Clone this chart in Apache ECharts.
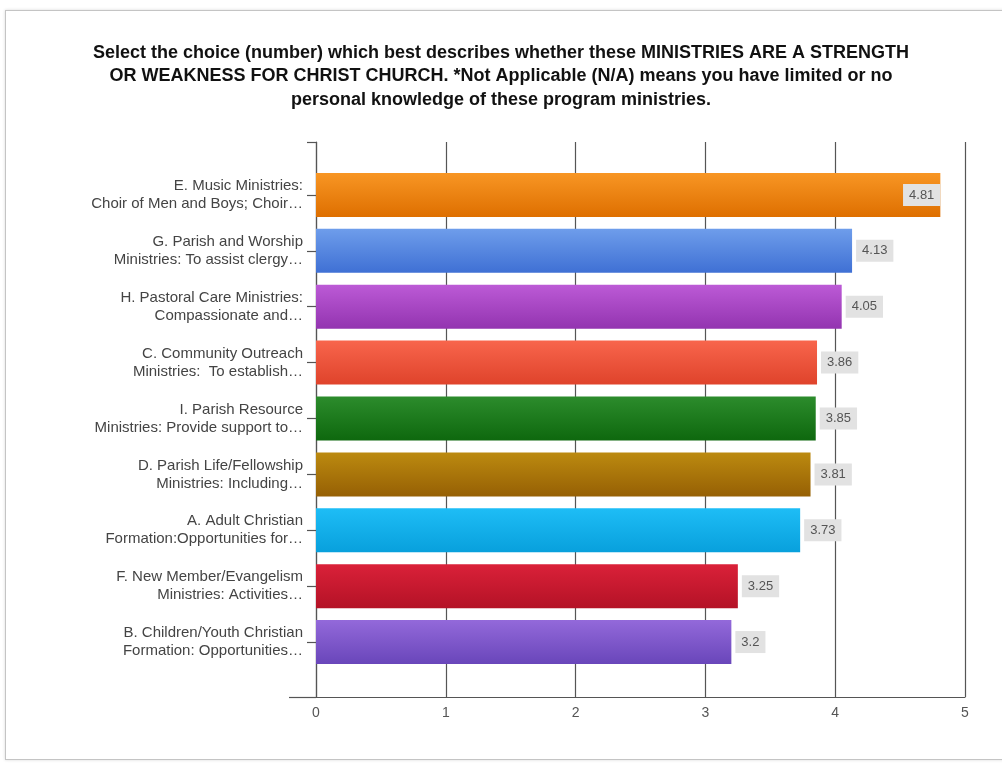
<!DOCTYPE html>
<html>
<head>
<meta charset="utf-8">
<script src="https://cdn.jsdelivr.net/npm/echarts@6/dist/echarts.min.js"></script>
<style>
  html, body { margin: 0; padding: 0; background: #fff; }
  #frame { position: absolute; left: 5px; top: 10px; width: 1010px; height: 748px;
           border: 1px solid #c4c4c4; box-shadow: 0 0 3px rgba(0,0,0,0.15); }
  #chart { position: absolute; left: 0; top: 0; width: 1002px; height: 763px; }
</style>
</head>
<body>
<div id="frame"></div>
<div id="chart"></div>
<script>
const titleText = 'Select the choice (number) which best describes whether these MINISTRIES ARE A STRENGTH\nOR WEAKNESS FOR CHRIST CHURCH. *Not Applicable (N/A) means you have limited or no\npersonal knowledge of these program ministries.';

const categories = [
  'E. Music Ministries:\nChoir of Men and Boys; Choir\u2026',
  'G. Parish and Worship\nMinistries: To assist clergy\u2026',
  'H. Pastoral Care Ministries:\nCompassionate and\u2026',
  'C. Community Outreach\nMinistries:  To establish\u2026',
  'I. Parish Resource\nMinistries: Provide support to\u2026',
  'D. Parish Life/Fellowship\nMinistries: Including\u2026',
  'A. Adult Christian\nFormation:Opportunities for\u2026',
  'F. New Member/Evangelism\nMinistries: Activities\u2026',
  'B. Children/Youth Christian\nFormation: Opportunities\u2026'
];
const values = [4.81, 4.13, 4.05, 3.86, 3.85, 3.81, 3.73, 3.25, 3.2];
const colorsTop = ['#F89624', '#6E9DEB', '#BC5AD6', '#F8654C', '#2C8C2C', '#BC8A10', '#1EBDF6', '#DA2139', '#9369DA'];
const colorsBottom = ['#DE6F00', '#3F70D4', '#9334B0', '#DF432B', '#0E680E', '#966004', '#08A0DC', '#B41226', '#6946BA'];
const xTicks = [0, 1, 2, 3, 4, 5];

const chart = echarts.init(document.getElementById('chart'), null, { renderer: 'canvas' });

const barData = values.map((v, i) => ({
  value: v,
  itemStyle: {
    color: new echarts.graphic.LinearGradient(0, 0, 0, 1, [
      { offset: 0, color: colorsTop[i] },
      { offset: 1, color: colorsBottom[i] }
    ])
  },
  label: i === 0 ? { position: 'insideRight', distance: 0 } : { position: 'right', distance: 4 }
}));

chart.setOption({
  backgroundColor: 'transparent',
  animation: false,
  title: {
    text: titleText,
    left: 'center',
    top: 36,
    textStyle: {
      fontFamily: 'Liberation Sans, Arial, sans-serif',
      fontSize: 18,
      fontWeight: 'bold',
      color: '#111',
      lineHeight: 23.5,
      align: 'center'
    }
  },
  grid: [
    { left: 316, right: 37, top: 142, bottom: 66 },
    { left: 316, right: 37, top: 167, bottom: 93 }
  ],
  xAxis: [
    {
      gridIndex: 0, type: 'value', min: xTicks[0], max: xTicks[xTicks.length - 1], interval: 1,
      axisLine: { show: true, lineStyle: { color: '#555', width: 1.2 } },
      axisTick: { show: false },
      splitLine: { show: true, lineStyle: { color: '#555', width: 1.2 } },
      axisLabel: { color: '#555', fontSize: 14, margin: 9, fontFamily: 'Liberation Sans, Arial, sans-serif' }
    },
    {
      gridIndex: 1, type: 'value', min: xTicks[0], max: xTicks[xTicks.length - 1],
      show: false
    }
  ],
  yAxis: [
    {
      gridIndex: 0, type: 'value', min: 0, max: 1, position: 'left',
      axisLine: { show: true, lineStyle: { color: '#555', width: 1.2 } },
      axisTick: { show: true, customValues: [1], length: 9, lineStyle: { color: '#555', width: 1.2 } },
      axisLabel: { show: false },
      splitLine: { show: false }
    },
    {
      gridIndex: 0, type: 'value', min: 0, max: 1, position: 'left', offset: 0,
      axisLine: { show: false },
      axisTick: { show: true, customValues: [0], length: 27, lineStyle: { color: '#555', width: 1.2 } },
      axisLabel: { show: false },
      splitLine: { show: false }
    },
    {
      gridIndex: 1, type: 'category', inverse: true, data: categories, position: 'left',
      axisLine: { show: false },
      axisTick: { show: true, alignWithLabel: true, length: 9, lineStyle: { color: '#555', width: 1.2 } },
      axisLabel: {
        color: '#444', fontSize: 15, margin: 13, lineHeight: 18, align: 'right',
        fontFamily: 'Liberation Sans, Arial, sans-serif'
      },
      splitLine: { show: false }
    }
  ],
  series: [
    {
      type: 'bar',
      xAxisIndex: 1,
      yAxisIndex: 2,
      barWidth: 44,
      data: barData,
      label: {
        show: true,
        color: '#555',
        fontSize: 13,
        fontFamily: 'Liberation Sans, Arial, sans-serif',
        backgroundColor: '#e2e2e2',
        padding: [5, 6, 4, 6],
        formatter: p => String(p.value)
      }
    }
  ]
});
</script>
</body>
</html>
